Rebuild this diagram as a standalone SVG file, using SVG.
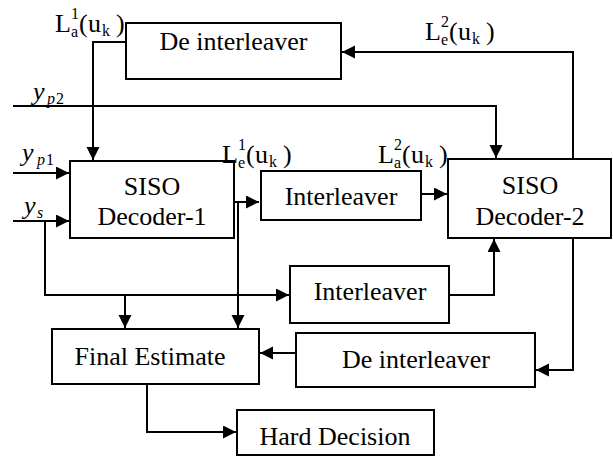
<svg xmlns="http://www.w3.org/2000/svg" width="613" height="456" viewBox="0 0 613 456">
<style>
.box{fill:#fff;stroke:#000;stroke-width:2}
.t{font-family:'Liberation Serif','Times New Roman',serif;font-size:26px;fill:#000;text-anchor:middle}
.c{fill:none;stroke:#000;stroke-width:2}
.m{font-family:'Liberation Serif','Times New Roman',serif;font-size:26px;fill:#000}
.s{font-size:16px}
.i{font-style:italic}
.n{font-style:normal}
</style>
<defs>
<marker id="ah" markerUnits="userSpaceOnUse" markerWidth="14" markerHeight="14" refX="13" refY="6.5" orient="auto">
<path d="M0,0 L13,6.5 L0,13 z" fill="#000"/>
</marker>
</defs>
<rect width="613" height="456" fill="#fff"/>
<g id="connectors">
<polyline class="c" points="126,42 93,42 93,160" marker-end="url(#ah)"/>
<polyline class="c" points="13,106 496,106 496,158" marker-end="url(#ah)"/>
<polyline class="c" points="13,173 69,173" marker-end="url(#ah)"/>
<polyline class="c" points="13,221 69,221" marker-end="url(#ah)"/>
<polyline class="c" points="45,221 45,295 289,295" marker-end="url(#ah)"/>
<polyline class="c" points="125,295 125,328" marker-end="url(#ah)"/>
<polyline class="c" points="234,202 259,202" marker-end="url(#ah)"/>
<polyline class="c" points="238,202 238,328" marker-end="url(#ah)"/>
<polyline class="c" points="421,194 447,194" marker-end="url(#ah)"/>
<polyline class="c" points="449,295 494,295 494,239" marker-end="url(#ah)"/>
<polyline class="c" points="573,159 573,52 342,52" marker-end="url(#ah)"/>
<polyline class="c" points="573,238 573,370 536,370" marker-end="url(#ah)"/>
<polyline class="c" points="296,353 260,353" marker-end="url(#ah)"/>
<polyline class="c" points="147,384 147,432 236,432" marker-end="url(#ah)"/>
</g>
<g id="deinterleaver1">
<rect class="box" x="126" y="23" width="215" height="56"/>
<text class="t" x="233.5" y="50">De interleaver</text>
</g>
<g id="siso1">
<rect class="box" x="70" y="161" width="164" height="77"/>
<text class="t" x="152" y="195">SISO</text>
<text class="t" x="152" y="225">Decoder-1</text>
</g>
<g id="interleaver1">
<rect class="box" x="261" y="171" width="160" height="49"/>
<text class="t" x="341" y="205">Interleaver</text>
</g>
<g id="siso2">
<rect class="box" x="448" y="159" width="163" height="79"/>
<text class="t" x="530" y="194">SISO</text>
<text class="t" x="530" y="225">Decoder-2</text>
</g>
<g id="interleaver2">
<rect class="box" x="290" y="266" width="159" height="57"/>
<text class="t" x="370" y="300">Interleaver</text>
</g>
<g id="finalestimate">
<rect class="box" x="52" y="329" width="207" height="55"/>
<text class="t" x="150" y="365">Final Estimate</text>
</g>
<g id="deinterleaver2">
<rect class="box" x="296" y="333" width="239" height="54"/>
<text class="t" x="416" y="368">De interleaver</text>
</g>
<g id="harddecision">
<rect class="box" x="237" y="410" width="197" height="45"/>
<text class="t" x="335" y="445">Hard Decision</text>
</g>
<g id="labels">
<text class="m" transform="translate(55,32)"><tspan x="0" y="0">L</tspan><tspan class="s" x="16" y="-13">1</tspan><tspan class="s" x="16" y="5">a</tspan><tspan x="24" y="0">(</tspan><tspan x="33" y="0">u</tspan><tspan class="s" x="47" y="4">k</tspan><tspan x="61" y="0">)</tspan></text>
<text class="m" transform="translate(222,163)"><tspan x="0" y="0">L</tspan><tspan class="s" x="16" y="-13">1</tspan><tspan class="s" x="16" y="5">e</tspan><tspan x="24" y="0">(</tspan><tspan x="33" y="0">u</tspan><tspan class="s" x="47" y="4">k</tspan><tspan x="61" y="0">)</tspan></text>
<text class="m" transform="translate(378,163)"><tspan x="0" y="0">L</tspan><tspan class="s" x="16" y="-13">2</tspan><tspan class="s" x="16" y="5">a</tspan><tspan x="24" y="0">(</tspan><tspan x="33" y="0">u</tspan><tspan class="s" x="47" y="4">k</tspan><tspan x="61" y="0">)</tspan></text>
<text class="m" transform="translate(425,40)"><tspan x="0" y="0">L</tspan><tspan class="s" x="16" y="-13">2</tspan><tspan class="s" x="16" y="5">e</tspan><tspan x="24" y="0">(</tspan><tspan x="33" y="0">u</tspan><tspan class="s" x="47" y="4">k</tspan><tspan x="61" y="0">)</tspan></text>
<text class="m i"><tspan x="33" y="100">y</tspan><tspan class="s" x="47" y="104">p</tspan><tspan class="s n" x="56" y="104">2</tspan></text>
<text class="m i"><tspan x="22" y="161">y</tspan><tspan class="s" x="37" y="165">p</tspan><tspan class="s n" x="46" y="165">1</tspan></text>
<text class="m i"><tspan x="24" y="214">y</tspan><tspan class="s" x="37" y="218">s</tspan></text>
</g>
</svg>
